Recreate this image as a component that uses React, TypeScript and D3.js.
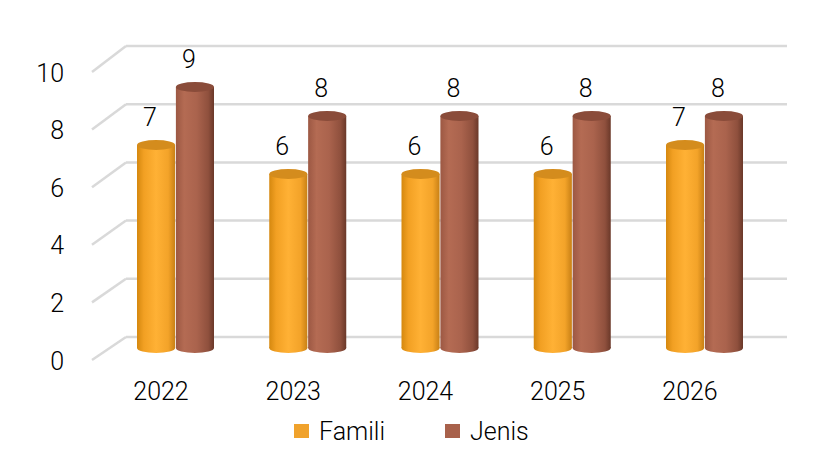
import * as d3 from 'd3'

const years = ['2022', '2023', '2024', '2025', '2026']
const seriesNames = ['Famili', 'Jenis']
const famili = [7, 6, 6, 6, 7]
const jenis = [9, 8, 8, 8, 8]
const yTicks = [0, 2, 4, 6, 8, 10]

const W = 827
const H = 462

export default function App() {
  const seriesValues = [famili, jenis]

  // pair centres of the cylinders
  const x = d3.scalePoint<string>().domain(years).range([175, 704])
  const inner = d3.scaleBand<string>().domain(seriesNames).range([-38, 39]).paddingInner(0.02)

  // value plane of the bars, back wall and front edge of the side wall
  const yBar = d3.scaleLinear().domain([0, 10]).range([348, 58])
  const yBack = d3.scaleLinear().domain([0, 10]).range([337, 46])
  const yFront = d3.scaleLinear().domain([0, 10]).range([360, 72])

  const backLeft = 126
  const backRight = 787
  const frontLeft = 92
  const ry = 5

  const topColors = ['#d48c1d', '#8a4c3a']
  const legendColors = ['#f0a22c', '#a8614b']

  return (
    <svg
      width={W}
      height={H}
      style={{ position: 'absolute', left: 0, top: 0, background: '#fff' }}
      fontFamily="Roboto, 'Noto Sans', sans-serif"
      fontWeight={300}
    >
      <defs>
        <linearGradient id="g-famili" x1="0" x2="1" y1="0" y2="0">
          <stop offset="0%" stopColor="#d5880f" />
          <stop offset="18%" stopColor="#f2a023" />
          <stop offset="50%" stopColor="#ffb135" />
          <stop offset="82%" stopColor="#f3a329" />
          <stop offset="100%" stopColor="#c88015" />
        </linearGradient>
        <linearGradient id="g-jenis" x1="0" x2="1" y1="0" y2="0">
          <stop offset="0%" stopColor="#9c5843" />
          <stop offset="22%" stopColor="#b46b53" />
          <stop offset="55%" stopColor="#aa634d" />
          <stop offset="85%" stopColor="#8f503d" />
          <stop offset="100%" stopColor="#6a3829" />
        </linearGradient>
      </defs>

      {/* grid: back wall lines and side wall diagonals */}
      {yTicks.map(t => (
        <g key={t} stroke="#d9d9d9" strokeWidth={2.5} fill="none">
          <line x1={backLeft} x2={backRight} y1={yBack(t)} y2={yBack(t)} />
          <line x1={frontLeft} y1={yFront(t)} x2={backLeft} y2={yBack(t)} />
        </g>
      ))}

      {/* y tick labels */}
      {yTicks.map(t => (
        <text
          key={t}
          x={64}
          y={yFront(t) + 1}
          textAnchor="end"
          dominantBaseline="central"
          fontSize={25}
          fill="#000"
        >
          {t}
        </text>
      ))}

      {/* cylinders */}
      {years.map((yr, i) =>
        seriesNames.map((s, si) => {
          const v = seriesValues[si][i]
          const x0 = x(yr)! + inner(s)!
          const w = inner.bandwidth()
          const cx = x0 + w / 2
          const yTop = yBar(v)
          const yBot = yBar(0)
          const grad = si === 0 ? 'url(#g-famili)' : 'url(#g-jenis)'
          return (
            <g key={yr + s}>
              <ellipse cx={cx} cy={yBot} rx={w / 2} ry={ry} fill={grad} />
              <rect x={x0} y={yTop} width={w} height={yBot - yTop} fill={grad} />
              <ellipse cx={cx} cy={yTop} rx={w / 2} ry={ry} fill={topColors[si]} />
              <text x={cx - 6} y={yTop - 19} textAnchor="middle" fontSize={25} fill="#000">
                {v}
              </text>
            </g>
          )
        })
      )}

      {/* category labels */}
      {years.map(yr => (
        <text key={yr} x={x(yr)! - 14} y={400} textAnchor="middle" fontSize={25} fill="#000">
          {yr}
        </text>
      ))}

      {/* legend */}
      {seriesNames.map((s, si) => {
        const lx = si === 0 ? 294 : 445
        return (
          <g key={s}>
            <rect x={lx} y={424} width={15} height={14} fill={legendColors[si]} />
            <text x={lx + 25} y={440} fontSize={25} fill="#000">
              {s}
            </text>
          </g>
        )
      })}
    </svg>
  )
}
